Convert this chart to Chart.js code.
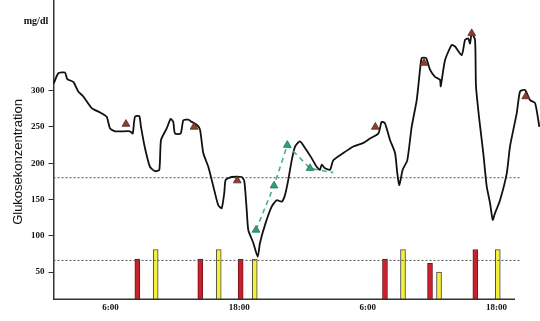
<!DOCTYPE html>
<html>
<head>
<meta charset="utf-8">
<script src="https://cdn.jsdelivr.net/npm/chart.js@4"></script>
<style>
  body { margin: 0; background: #fff; }
  #wrap { width: 540px; height: 321px; position: relative; }
</style>
</head>
<body>
<div id="wrap"><canvas id="glucose_chart"></canvas></div>
<script>
// CGM trace (hours from start, mg/dl)
const cgmHours = [0.7,1.13,1.75,1.97,2.53,2.99,3.46,4.24,5.02,5.64,
  5.95,6.42,7.82,8.07,8.28,8.68,8.84,9.21,9.68,10.15,
  10.55,10.71,11.24,11.61,11.85,12.01,12.54,12.79,13.25,13.57,
  14.04,14.35,14.65,15.12,15.59,16.05,16.37,16.61,16.74,17.30,
  18.24,18.48,18.70,18.85,19.32,19.73,19.94,20.41,21.03,21.50,
  21.97,22.27,22.58,22.90,23.21,23.67,24.14,24.76,25.23,25.54,
  25.70,26.01,26.47,26.78,27.71,28.65,29.58,30.20,30.98,31.29,
  31.60,32.07,32.54,32.75,32.94,33.25,33.68,34.09,34.56,34.87,
  35.03,35.43,35.80,36.27,36.73,36.80,37.20,37.82,38.13,38.76,
  39.07,39.37,39.53,39.69,40.00,40.09,40.40,40.77,41.09,41.40,
  41.65,41.86,42.33,42.96,43.26,43.89,44.20,44.66,45.13,45.60,
  46.00];
const cgmValues = [310,324,325,316,312,299,292,276,270,264,
  248,244,244,241,264,265,250,221,195,189,
  191,232,248,261,257,241,241,259,260,257,
  253,246,214,195,168,142,138,159,177,181,
  181,175,136,108,90,71,90,115,140,149,
  147,156,177,204,223,230,221,207,195,191,
  198,193,191,204,214,223,228,234,241,257,
  255,232,214,186,170,191,204,250,287,329,
  345,345,329,319,315,306,342,363,361,349,
  370,372,365,379,370,306,260,214,168,145,
  122,131,149,186,223,269,299,301,287,283,
  250];

// blood glucose measurements (brown triangles)
const bgHours = [7.44,13.79,17.82,30.70,35.24,39.69,44.73];
const bgValues = [254,250,176,250,338,379,292];

// green dashed series
const greenHours = [19.57,21.25,22.49,24.61,26.78];
const greenValues = [108,169,225,193,187];

// red / yellow bars
const redHours = [8.50,14.37,18.14,31.60,35.80,40.03];
const redValues = [68,68,68,68,62,81];
const yellowHours = [10.21,16.09,19.45,33.28,36.64,42.12];
const yellowValues = [81,81,68,81,50,81];

// reference lines
const upperLimit = 180;
const lowerLimit = 66;
const refStart = 0.68, refEnd = 44.2;

const yTicks = [50,100,150,200,250,300];
const xTickHours = [6,18,30,42];
const xTickLabels = ['6:00','18:00','6:00','18:00'];
const xAxisEnd = 43.73;   // where the drawn time axis stops

const yTitle = 'Glukosekonzentration';
const unitLabel = 'mg/dl';

const pts = (xs, ys) => xs.map((x, i) => ({x: x, y: ys[i]}));
const serifBold = {family: '"Liberation Serif", "DejaVu Serif", serif', weight: 'bold', size: 9};

const labelsPlugin = {
  id: 'labels',
  afterDraw(chart) {
    const ctx = chart.ctx;
    const area = chart.chartArea;
    const xs = chart.scales.x;
    ctx.save();
    // time axis line, shorter than the plot area
    ctx.strokeStyle = '#333';
    ctx.lineWidth = 1.5;
    ctx.beginPath();
    ctx.moveTo(area.left, area.bottom);
    ctx.lineTo(xs.getPixelForValue(xAxisEnd), area.bottom);
    ctx.stroke();
    ctx.fillStyle = '#111';
    ctx.font = 'bold 10px "Liberation Serif", serif';
    ctx.textAlign = 'center';
    ctx.textBaseline = 'middle';
    ctx.fillText(unitLabel, 36, 21);
    ctx.translate(18, 162);
    ctx.rotate(-Math.PI / 2);
    ctx.font = '13px "Liberation Sans", Arial, sans-serif';
    ctx.fillText(yTitle, 0, 0);
    ctx.restore();
  }
};

const ctx = document.getElementById('glucose_chart').getContext('2d');
new Chart(ctx, {
  type: 'line',
  data: {
    datasets: [
      { type: 'bar', data: pts(redHours, redValues), backgroundColor: '#c8202c', borderColor: '#7a1418',
        borderWidth: 1, barThickness: 5, grouped: false, order: 6 },
      { type: 'bar', data: pts(yellowHours, yellowValues), backgroundColor: '#f4f03a', borderColor: '#444',
        borderWidth: 1, barThickness: 5, grouped: false, order: 6 },
      { data: [{x: refStart, y: upperLimit}, {x: refEnd, y: upperLimit}], borderColor: '#555', borderWidth: 1,
        borderDash: [2, 2], pointRadius: 0, order: 5 },
      { data: [{x: refStart, y: lowerLimit}, {x: refEnd, y: lowerLimit}], borderColor: '#555', borderWidth: 1,
        borderDash: [2, 2], pointRadius: 0, order: 5 },
      { data: pts(cgmHours, cgmValues), borderColor: '#111', borderWidth: 1.8, pointRadius: 0,
        tension: 0.2, clip: false, order: 3 },
      { data: pts(greenHours, greenValues), borderColor: '#4cb08c', borderWidth: 1.6, borderDash: [5, 4],
        pointStyle: 'triangle', pointRadius: greenHours.map((h, i) => i < greenHours.length - 1 ? 4.5 : 0),
        pointBackgroundColor: '#2f9e78', pointBorderColor: '#217a5c', pointBorderWidth: 0.8, order: 2 },
      { data: pts(bgHours, bgValues), showLine: false, pointStyle: 'triangle', pointRadius: 4.5,
        pointBackgroundColor: '#8a3f30', pointBorderColor: '#5e2a20', pointBorderWidth: 0.8, clip: false, order: 1 }
    ]
  },
  options: {
    responsive: true,
    maintainAspectRatio: false,
    animation: false,
    layout: { autoPadding: false, padding: { left: 0, right: 0, top: 0, bottom: 0 } },
    plugins: { legend: { display: false }, tooltip: { enabled: false } },
    scales: {
      x: {
        type: 'linear', min: 0.68, max: 46.06, offset: false,
        grid: { display: false, drawTicks: false },
        border: { display: false },
        afterBuildTicks: s => { s.ticks = xTickHours.map(v => ({value: v})); },
        afterFit: s => { s.height = 21.7; s.paddingLeft = 0; s.paddingRight = 0; },
        ticks: { font: serifBold, color: '#111', padding: 3, maxRotation: 0,
          callback: (v) => xTickLabels[xTickHours.indexOf(v)] }
      },
      y: {
        min: 12.4, max: 425,
        grid: { drawOnChartArea: false, drawTicks: true, tickLength: 5, color: '#333' },
        border: { display: true, color: '#333', width: 1.5 },
        afterBuildTicks: s => { s.ticks = yTicks.map(v => ({value: v})); },
        afterFit: s => { s.width = 53.5; s.paddingTop = 0; s.paddingBottom = 0; },
        ticks: { font: serifBold, color: '#111', padding: 4 }
      }
    }
  },
  plugins: [labelsPlugin]
});
</script>
</body>
</html>
